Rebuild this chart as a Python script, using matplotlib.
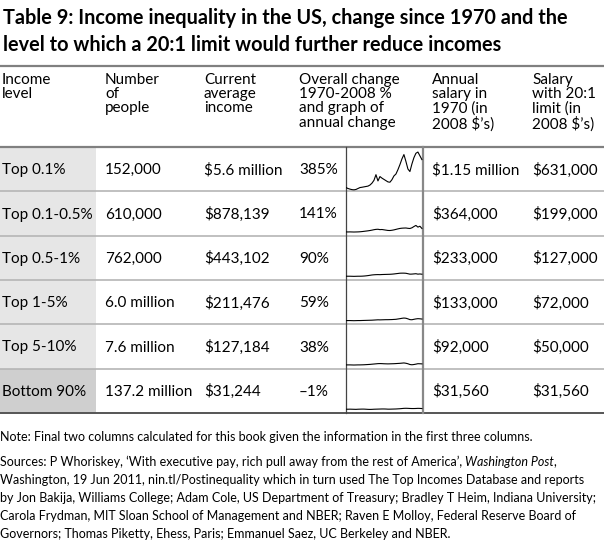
import numpy as np
import matplotlib
matplotlib.use('Agg')
import matplotlib.pyplot as plt

plt.rcParams['text.parse_math'] = False

# ---- data ----
title_lines = ['Table 9: Income inequality in the US, change since 1970 and the',
               'level to which a 20:1 limit would further reduce incomes']
headers = ['Income\nlevel',
           'Number\nof\npeople',
           'Current\naverage\nincome',
           'Overall change\n1970-2008 %\nand graph of\nannual change',
           'Annual\nsalary in\n1970 (in\n2008 $\u2019s)',
           'Salary\nwith 20:1\nlimit (in\n2008 $\u2019s)']

levels = ['Top 0.1%', 'Top 0.1-0.5%', 'Top 0.5-1%', 'Top 1-5%', 'Top 5-10%', 'Bottom 90%']
people = ['152,000', '610,000', '762,000', '6.0 million', '7.6 million', '137.2 million']
current_income = ['$5.6 million', '$878,139', '$443,102', '$211,476', '$127,184', '$31,244']
overall_change = ['385%', '141%', '90%', '59%', '38%', '\u20131%']
salary_1970 = ['$1.15 million', '$364,000', '$233,000', '$133,000', '$92,000', '$31,560']
salary_limit = ['$631,000', '$199,000', '$127,000', '$72,000', '$50,000', '$31,560']

# sparklines: change in average income since 1970 ($ thousands, as drawn), 1970-2008
years = np.arange(1970, 2009)
spark_top01 = np.array([1150, 1000, 900, 820, 790, 850, 1000, 1150, 1200, 1260,
                        1320, 1380, 1550, 1850, 2300, 3200, 2200, 2900, 2650, 2450,
                        2250, 2050, 2000, 2400, 3000, 3300, 4000, 4800, 5700, 6400,
                        5300, 4100, 3700, 4900, 5900, 6600, 6800, 6200, 5600]) - 1150
spark_top01_05 = [0, -10, 0, -10, -20, -10, 0, 20, 50, 90,
                  130, 170, 220, 280, 350, 400, 420, 360, 380, 330,
                  280, 230, 220, 260, 320, 400, 480, 550, 590, 610,
                  620, 570, 540, 650, 850, 1030, 760, 900, 550]
spark_top05_1 = [0, 0, 0, -10, -20, -10, 0, 0, 10, 30,
                 60, 100, 150, 200, 230, 250, 260, 250, 270, 280,
                 290, 300, 310, 330, 360, 400, 440, 480, 490, 490,
                 470, 400, 330, 340, 370, 400, 330, 360, 320]
spark_top1_5 = [0, 0, 0, -10, -20, -10, 0, 0, 10, 20,
                30, 40, 50, 60, 80, 100, 120, 110, 120, 130,
                140, 140, 150, 160, 180, 200, 250, 300, 360, 400,
                370, 270, 150, 130, 200, 260, 300, 280, 240]
spark_top5_10 = [0, 0, 0, -10, -20, -10, 0, 0, 10, 20,
                 40, 60, 80, 110, 140, 170, 200, 210, 200, 180,
                 170, 160, 170, 180, 190, 210, 230, 250, 280, 310,
                 260, 180, 60, 20, 60, 120, 190, 180, 160]
spark_bottom90 = [0, 0, 10, 0, -10, -20, 0, 10, 20, 20,
                  0, -20, -30, -20, 0, 10, 20, 30, 40, 40,
                  30, 10, 10, 20, 30, 40, 60, 80, 110, 140,
                  150, 140, 120, 110, 110, 120, 140, 130, 110]
sparks = [spark_top01, spark_top01_05, spark_top05_1, spark_top1_5, spark_top5_10, spark_bottom90]

note = 'Note: Final two columns calculated for this book given the information in the first three columns.'
src1a = 'Sources: P Whoriskey, \u2018With executive pay, rich pull away from the rest of America\u2019, '
src1b = 'Washington Post'
src1c = ','
sources_rest = ['Washington, 19 Jun 2011, nin.tl/Postinequality which in turn used The Top Incomes Database and reports',
                'by Jon Bakija, Williams College; Adam Cole, US Department of Treasury; Bradley T Heim, Indiana University;',
                'Carola Frydman, MIT Sloan School of Management and NBER; Raven E Molloy, Federal Reserve Board of',
                'Governors; Thomas Piketty, Ehess, Paris; Emmanuel Saez, UC Berkeley and NBER.']

# ---- layout (pixels) ----
W, H = 604, 541
col_x = [2, 105, 204, 299, 432, 532]
row_edges = np.linspace(147, 413, 7)
spark_x0, spark_x1 = 346, 422.5
body_font = 'Lato'
note_font = ['Liberation Sans Narrow', 'Lato']
note_size = 9.0

fig = plt.figure(figsize=(W / 100, H / 100), dpi=100)
ax = fig.add_axes([0, 0, 1, 1])
ax.set_xlim(0, W)
ax.set_ylim(H, 0)
ax.axis('off')

# title
for i, line in enumerate(title_lines):
    ax.text(3, 18 + i * 27, line, fontsize=14.3, fontweight='bold', family=body_font,
            va='center', ha='left')

# rules
ax.plot([0, W], [66, 66], color='#808080', lw=1.6)
ax.plot([0, W], [row_edges[0], row_edges[0]], color='#808080', lw=1.6)
ax.plot([0, W], [row_edges[-1], row_edges[-1]], color='#555555', lw=1.4)

# headers
for x, h in zip(col_x, headers):
    ax.text(x, 73, h, fontsize=11, family=body_font, va='top', ha='left', linespacing=1.02)

# first column shading
for i in range(6):
    shade = '#cfcfcf' if i == 5 else '#e6e6e6'
    ax.fill_between([0, 96], row_edges[i], row_edges[i + 1], color=shade, lw=0, zorder=0)

# body rows
for i in range(6):
    yc = (row_edges[i] + row_edges[i + 1]) / 2 + 1
    vals = [levels[i], people[i], current_income[i], overall_change[i], salary_1970[i], salary_limit[i]]
    for x, v in zip(col_x, vals):
        ax.text(x, yc, v, fontsize=11, family=body_font, va='center', ha='left')
    if 0 < i:
        ax.plot([0, W], [row_edges[i], row_edges[i]], color='#b5b5b5', lw=1.2, zorder=1)

# sparkline column borders
ax.plot([spark_x0, spark_x0], [row_edges[0], row_edges[-1]], color='#444444', lw=0.9)
ax.plot([spark_x1, spark_x1], [row_edges[0], row_edges[-1]], color='#888888', lw=1.6)

# sparklines
for i, s in enumerate(sparks):
    top, bot = row_edges[i], row_edges[i + 1]
    sax = fig.add_axes([spark_x0 / W, 1 - bot / H, (spark_x1 - spark_x0) / W, (bot - top) / H])
    sax.plot(years, s, color='black', lw=0.8)
    sax.set_xlim(1970, 2008.3)
    sax.set_ylim(-600, 6450)
    sax.axis('off')

# notes
ax.text(0, 437, note, fontsize=note_size, family=note_font, va='center', ha='left')
t = ax.text(0, 462, src1a, fontsize=note_size, family=note_font, va='center', ha='left')
t2 = ax.annotate(src1b, xy=(1, 0.5), xycoords=t, fontsize=note_size, family=note_font,
                 style='italic', va='center', ha='left')
ax.annotate(src1c, xy=(1, 0.5), xycoords=t2, xytext=(-0.5, 0), textcoords='offset points',
            fontsize=note_size, family=note_font, va='center', ha='left')
for j, line in enumerate(sources_rest):
    ax.text(0, 480 + j * 18, line, fontsize=note_size, family=note_font, va='center', ha='left')

fig.savefig('out.png', dpi=100)
